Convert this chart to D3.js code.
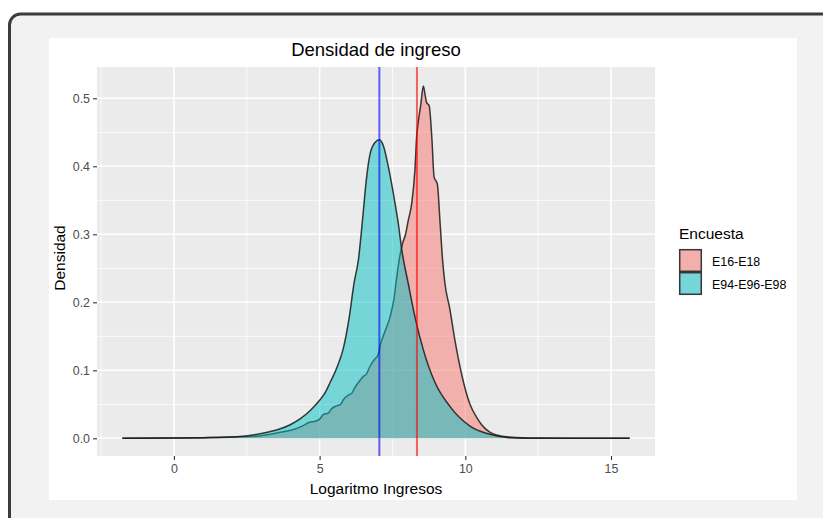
<!DOCTYPE html>
<html>
<head>
<meta charset="utf-8">
<script src="https://cdn.jsdelivr.net/npm/d3@7"></script>
<style>
  body { margin: 0; background: #fff; }
  text { font-family: "Liberation Sans", Arial, Helvetica, sans-serif; }
</style>
</head>
<body>
<svg id="chart" width="823" height="518"></svg>
<script>
// data
const groups = ["E16-E18", "E94-E96-E98"];
const groupColors = ["#F8766D", "#00BFC4"];

const x1618 = [-1.77, 0, 1, 2, 2.85, 3.3, 3.65, 4.1, 4.4, 4.68, 4.85, 5.02, 5.13, 5.3, 5.4, 5.6, 5.72, 5.82, 6.0, 6.1, 6.2, 6.33, 6.5, 6.6, 6.73, 6.9, 7.0, 7.1, 7.25, 7.42, 7.55, 7.65, 7.76, 7.85, 7.95, 8.04, 8.16, 8.27, 8.33, 8.39, 8.47, 8.56, 8.62, 8.67, 8.76, 8.85, 8.93, 9.04, 9.13, 9.22, 9.3, 9.47, 9.64, 9.87, 10.16, 10.4, 10.56, 10.84, 11.07, 11.5, 12.5, 15.64];
const d1618 = [0, 0.0005, 0.001, 0.002, 0.003, 0.006, 0.009, 0.013, 0.018, 0.024, 0.025, 0.029, 0.035, 0.037, 0.043, 0.048, 0.05, 0.057, 0.064, 0.066, 0.074, 0.082, 0.091, 0.094, 0.106, 0.117, 0.122, 0.14, 0.158, 0.179, 0.205, 0.238, 0.27, 0.287, 0.30, 0.32, 0.345, 0.394, 0.443, 0.467, 0.49, 0.518, 0.505, 0.494, 0.489, 0.443, 0.384, 0.374, 0.32, 0.262, 0.228, 0.19, 0.145, 0.095, 0.05, 0.03, 0.02, 0.009, 0.005, 0.002, 0.0005, 0];

const x9498 = [-1.77, 0, 1, 2, 2.39, 3.0, 3.42, 3.65, 3.99, 4.34, 4.68, 5.02, 5.2, 5.36, 5.6, 5.8, 6.02, 6.18, 6.33, 6.47, 6.6, 6.73, 6.9, 7.05, 7.19, 7.36, 7.53, 7.70, 7.82, 8.04, 8.27, 8.56, 8.96, 9.47, 10.16, 10.84, 11.5, 12.5, 15.64];
const d9498 = [0, 0.0005, 0.001, 0.002, 0.003, 0.007, 0.011, 0.014, 0.02, 0.029, 0.041, 0.057, 0.068, 0.082, 0.105, 0.13, 0.179, 0.228, 0.262, 0.32, 0.379, 0.418, 0.435, 0.439, 0.43, 0.399, 0.36, 0.316, 0.277, 0.228, 0.179, 0.13, 0.082, 0.047, 0.018, 0.006, 0.001, 0, 0];

const meanLines = [8.34, 7.05];      // E16-E18, E94-E96-E98
const meanColors = ["red", "blue"];

const xTicks = [0, 5, 10, 15];
const xMinor = [-2.5, 2.5, 7.5, 12.5];
const yTicks = [0, 0.1, 0.2, 0.3, 0.4, 0.5];
const yMinor = [0.05, 0.15, 0.25, 0.35, 0.45];

const svg = d3.select("#chart");

// outer frame
svg.append("rect")
    .attr("x", 9.5).attr("y", 14)
    .attr("width", 900).attr("height", 600)
    .attr("rx", 11)
    .attr("fill", "#f2f2f2")
    .attr("stroke", "#3c3c3c")
    .attr("stroke-width", 3);

svg.append("rect")
    .attr("x", 49).attr("y", 38)
    .attr("width", 748).attr("height", 462)
    .attr("fill", "#fff");

const pLeft = 97, pRight = 655, pTop = 67, pBottom = 456;

const x = d3.scaleLinear().domain([-2.64, 16.51]).range([pLeft, pRight]);
const y = d3.scaleLinear().domain([-0.026, 0.546]).range([pBottom, pTop]);

// panel
svg.append("rect")
    .attr("x", pLeft).attr("y", pTop)
    .attr("width", pRight - pLeft).attr("height", pBottom - pTop)
    .attr("fill", "#ebebeb");

const grid = svg.append("g");
grid.selectAll(".ymin").data(yMinor).join("line")
    .attr("x1", pLeft).attr("x2", pRight)
    .attr("y1", d => y(d)).attr("y2", d => y(d))
    .attr("stroke", "#fff").attr("stroke-width", 0.8);
grid.selectAll(".xmin").data(xMinor.filter(d => x(d) > pLeft)).join("line")
    .attr("y1", pTop).attr("y2", pBottom)
    .attr("x1", d => x(d)).attr("x2", d => x(d))
    .attr("stroke", "#fff").attr("stroke-width", 0.8);
grid.selectAll(".ymaj").data(yTicks).join("line")
    .attr("x1", pLeft).attr("x2", pRight)
    .attr("y1", d => y(d)).attr("y2", d => y(d))
    .attr("stroke", "#fff").attr("stroke-width", 1.6);
grid.selectAll(".xmaj").data(xTicks).join("line")
    .attr("y1", pTop).attr("y2", pBottom)
    .attr("x1", d => x(d)).attr("x2", d => x(d))
    .attr("stroke", "#fff").attr("stroke-width", 1.6);

// densities
const series = [
    { name: groups[0], color: groupColors[0], pts: x1618.map((v, i) => [v, d1618[i]]) },
    { name: groups[1], color: groupColors[1], pts: x9498.map((v, i) => [v, d9498[i]]) }
];

const area = d3.area()
    .x(d => x(d[0])).y0(y(0)).y1(d => y(d[1]))
    .curve(d3.curveMonotoneX);
const line = d3.line()
    .x(d => x(d[0])).y(d => y(d[1]))
    .curve(d3.curveMonotoneX);

series.forEach(s => {
    svg.append("path")
        .attr("d", area(s.pts))
        .attr("fill", s.color)
        .attr("fill-opacity", 0.5);
    svg.append("path")
        .attr("d", line(s.pts))
        .attr("fill", "none")
        .attr("stroke", "#1a1a1a")
        .attr("stroke-opacity", 0.85)
        .attr("stroke-width", 1.5);
});

// mean lines
svg.selectAll(".vline").data(meanLines).join("line")
    .attr("x1", d => x(d)).attr("x2", d => x(d))
    .attr("y1", pTop).attr("y2", pBottom)
    .attr("stroke", (d, i) => meanColors[i])
    .attr("stroke-opacity", 0.6)
    .attr("stroke-width", 2);

// axes
const yAxis = svg.append("g").attr("transform", `translate(${pLeft},0)`)
    .call(d3.axisLeft(y).tickValues(yTicks).tickFormat(d3.format(".1f")).tickSize(4).tickPadding(3));
const xAxis = svg.append("g").attr("transform", `translate(0,${pBottom})`)
    .call(d3.axisBottom(x).tickValues(xTicks).tickSize(4).tickPadding(4));
[xAxis, yAxis].forEach(a => {
    a.select(".domain").remove();
    a.selectAll(".tick line").attr("stroke", "#333").attr("stroke-width", 1.1);
    a.selectAll(".tick text").attr("fill", "#4d4d4d").style("font-size", "12.4px");
});

// titles
svg.append("text")
    .attr("x", (pLeft + pRight) / 2).attr("y", 56)
    .attr("text-anchor", "middle")
    .attr("fill", "#000")
    .style("font-size", "18.5px")
    .text("Densidad de ingreso");

svg.append("text")
    .attr("x", (pLeft + pRight) / 2).attr("y", 494)
    .attr("text-anchor", "middle")
    .attr("fill", "#000")
    .style("font-size", "15.5px")
    .text("Logaritmo Ingresos");

svg.append("text")
    .attr("transform", "translate(65,258) rotate(-90)")
    .attr("text-anchor", "middle")
    .attr("fill", "#000")
    .style("font-size", "15.5px")
    .text("Densidad");

// legend
const legend = svg.append("g").attr("transform", "translate(679,239)");
legend.append("text")
    .attr("x", 0).attr("y", 0)
    .style("font-size", "15.5px")
    .text("Encuesta");

groups.forEach((g, i) => {
    const row = legend.append("g").attr("transform", `translate(0,${10 + i * 23})`);
    row.append("rect")
        .attr("width", 23).attr("height", 23)
        .attr("fill", "#ebebeb");
    row.append("rect")
        .attr("x", 0.7).attr("y", 0.7)
        .attr("width", 21.6).attr("height", 21.6)
        .attr("fill", groupColors[i]).attr("fill-opacity", 0.5)
        .attr("stroke", "#1a1a1a").attr("stroke-opacity", 0.85).attr("stroke-width", 1.5);
    row.append("text")
        .attr("x", 33).attr("y", 16.5)
        .style("font-size", "12.4px")
        .attr("fill", "#000")
        .text(g);
});
</script>
</body>
</html>
